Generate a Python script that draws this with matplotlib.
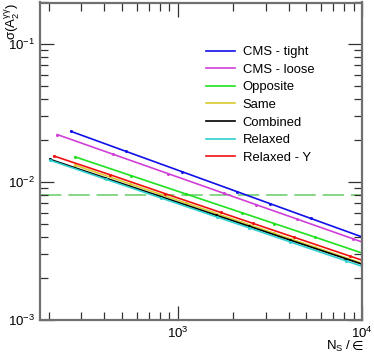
import matplotlib
matplotlib.use("Agg")
import matplotlib.pyplot as plt
from matplotlib.ticker import LogLocator, NullFormatter
from matplotlib.lines import Line2D

plt.rcParams['font.family'] = ['Liberation Sans', 'DejaVu Sans']
plt.rcParams['mathtext.default'] = 'regular'

labels = ["CMS - tight", "CMS - loose", "Opposite", "Same", "Combined", "Relaxed", "Relaxed - Υ"]
colors = ["#1010e8", "#d040d8", "#20e020", "#d8cc30", "#000000", "#30d0d0", "#f01010"]

n_tight = [264, 527, 1054, 2108, 3162, 5270, 10540]
s_tight = [0.0233, 0.01665, 0.01190, 0.00850, 0.00698, 0.00545, 0.00390]

n_loose = [223, 446, 892, 1784, 2676, 4460, 8920, 17840]
s_loose = [0.02206, 0.01591, 0.01148, 0.00828, 0.00684, 0.00538, 0.00388, 0.0028]

n_opp = [279, 558, 1116, 2232, 3348, 5580, 11160]
s_opp = [0.01520, 0.01114, 0.00817, 0.00599, 0.00500, 0.00398, 0.00291]

n_same = [277, 554, 1108, 2216, 3324, 5540, 11080]
s_same = [0.01327, 0.00967, 0.00705, 0.00513, 0.00426, 0.00338, 0.00246]

n_comb = [203, 406, 812, 1624, 2436, 4060, 8120, 16240]
s_comb = [0.01461, 0.01070, 0.00784, 0.00574, 0.00479, 0.00380, 0.00279, 0.00204]

n_relax = [204, 408, 816, 1632, 2448, 4080, 8160, 16320]
s_relax = [0.01436, 0.01048, 0.00765, 0.00558, 0.00465, 0.00368, 0.00269, 0.00196]

n_relaxY = [214, 428, 856, 1712, 2568, 4280, 8560, 17120]
s_relaxY = [0.01542, 0.01132, 0.00824, 0.00602, 0.00501, 0.00398, 0.00291, 0.00213]

threshold = 0.0081

series = [(n_tight, s_tight), (n_loose, s_loose), (n_opp, s_opp), (n_same, s_same),
          (n_comb, s_comb), (n_relax, s_relax), (n_relaxY, s_relaxY)]

W, H = 374, 354
fig = plt.figure(figsize=(W / 100, H / 100), dpi=100)
left, right, bottom, top = 40.2, 362, 320, 2.5
ax = fig.add_axes([left / W, 1 - bottom / H, (right - left) / W, (bottom - top) / H])

ax.set_xscale('log')
ax.set_yscale('log')
ax.set_xlim(180, 1e4)
ax.set_ylim(1e-3, 0.2)

ax.axhline(threshold, color="#66cc66", lw=1.1, dashes=(14, 4.5), zorder=1)

handles = []
for (n, s), c, lab in zip(series, colors, labels):
    ax.plot(n, s, color=c, lw=1.2, marker='o', ms=1.2, zorder=2)
    handles.append(Line2D([], [], color=c, lw=1.2, label=lab))

for sp in ax.spines.values():
    sp.set_color("#707070")
    sp.set_linewidth(1.6)

ax.xaxis.set_major_locator(LogLocator(base=10, numticks=10))
ax.xaxis.set_minor_locator(LogLocator(base=10, subs=range(2, 10), numticks=20))
ax.yaxis.set_major_locator(LogLocator(base=10, numticks=10))
ax.yaxis.set_minor_locator(LogLocator(base=10, subs=range(2, 10), numticks=20))
ax.xaxis.set_minor_formatter(NullFormatter())
ax.yaxis.set_minor_formatter(NullFormatter())
ax.tick_params(which='both', direction='in', top=True, right=True, color="#333333",
               labelsize=9.5, width=0.9)
ax.tick_params(which='major', length=10, pad=4)
ax.tick_params(which='minor', length=5.5)

ax.legend(handles=handles, loc='upper left',
          bbox_to_anchor=((206 - left) / (right - left), 1 - (46 - top) / (bottom - top)),
          frameon=False, fontsize=9.4, handlelength=2.2, handletextpad=0.6,
          labelspacing=0.42, borderaxespad=0, borderpad=0)

fig.text(352 / W, 1 - 346 / H, "N$_S$ / ", ha='right', va='center', fontsize=9.5)
fig.text(352 / W, 1 - 346 / H, "∈", ha='left', va='center', fontsize=9.5, family='DejaVu Sans')
fig.text(12 / W, 1 - 3 / H, "σ(A$_2^{γγ}$)", ha='center', va='top', rotation=90, fontsize=9.5)

fig.savefig("out.png", dpi=100)
